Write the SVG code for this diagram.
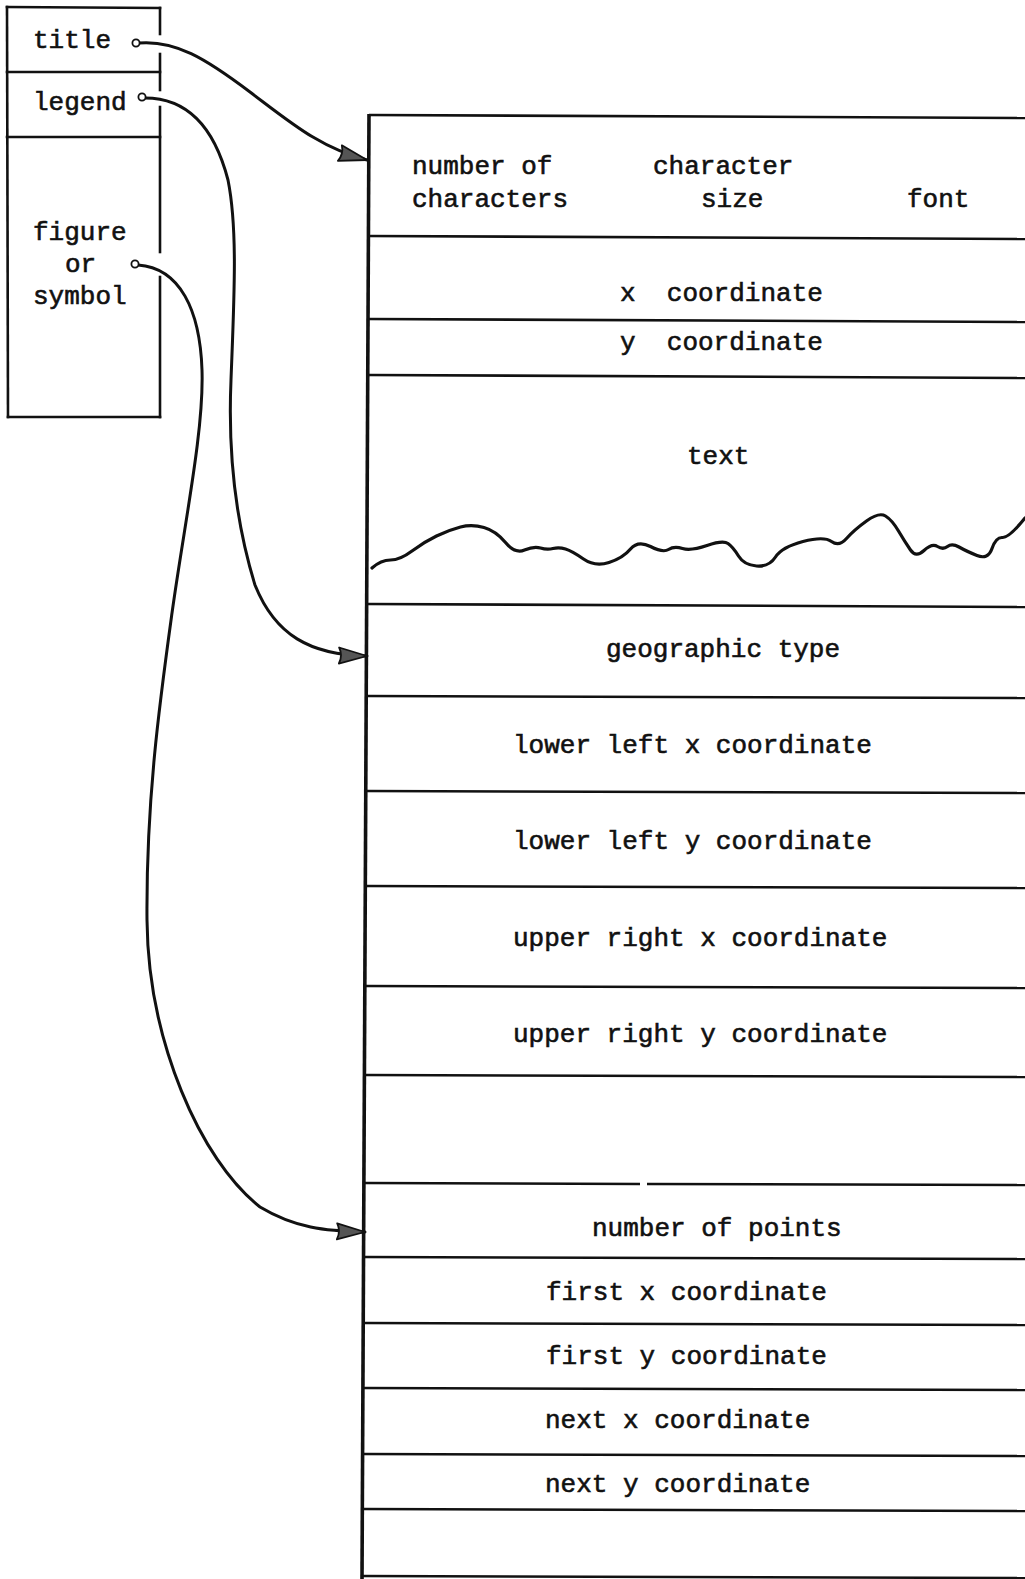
<svg xmlns="http://www.w3.org/2000/svg" width="1025" height="1579" viewBox="0 0 1025 1579">
  <style>
    .bg { fill: #ffffff; }
    .edge { stroke: #111; stroke-width: 2.6; fill: none; stroke-linecap: square; }
    .wall { stroke: #111; stroke-width: 3.6; fill: none; }
    .rule { stroke: #111; stroke-width: 2.6; fill: none; }
    .wave { stroke: #111; stroke-width: 3.2; fill: none; stroke-linejoin: round; stroke-linecap: round; }
    .lbl { font-family: "Liberation Mono", "DejaVu Sans Mono", monospace; font-size: 26px; fill: #111; stroke: #111; stroke-width: 0.6; }
    .wire { stroke: #111; stroke-width: 3; fill: none; stroke-linecap: round; }
    .dot { fill: #fff; stroke: #111; stroke-width: 1.8; }
  </style>
  <defs>
    <marker id="head" markerUnits="userSpaceOnUse" markerWidth="32" markerHeight="22" viewBox="0 -11 32 22" refX="29" refY="0" orient="auto">
      <path d="M1,-8 L29,0 L1,8 Q5,0 1,-8 z" fill="#555" stroke="#111" stroke-width="1.8" stroke-linejoin="round"/>
    </marker>
  </defs>

  <rect class="bg" x="0" y="0" width="1025" height="1579"/>

  <!-- record header: title / legend / figure pointers -->
  <g id="pointer-block">
    <line class="edge" x1="7" y1="7" x2="160" y2="8"/>
    <line class="edge" x1="7" y1="7" x2="8" y2="417"/>
    <line class="edge" x1="8" y1="417" x2="160" y2="417"/>
    <line class="edge" x1="160" y1="8" x2="160" y2="34"/>
    <line class="edge" x1="160" y1="54" x2="160" y2="90"/>
    <line class="edge" x1="160" y1="107" x2="160" y2="252"/>
    <line class="edge" x1="160" y1="277" x2="160" y2="417"/>
    <line class="edge" x1="7" y1="72" x2="160" y2="72"/>
    <line class="edge" x1="7" y1="137" x2="160" y2="137"/>
  </g>
  <g id="node-title"><text class="lbl" x="33" y="48">title</text></g>
  <g id="node-legend"><text class="lbl" x="33" y="110">legend</text></g>
  <g id="node-figure">
    <text class="lbl" x="33" y="240">figure</text>
    <text class="lbl" x="65" y="272">or</text>
    <text class="lbl" x="33" y="304">symbol</text>
  </g>

  <!-- main record layout -->
  <g id="record-frame">
    <line class="wall" x1="369" y1="114" x2="362" y2="1579"/>
    <line class="rule" x1="369" y1="115" x2="1025" y2="118"/>
    <line class="rule" x1="368" y1="236" x2="1025" y2="239"/>
    <line class="rule" x1="368" y1="319" x2="1025" y2="322"/>
    <line class="rule" x1="368" y1="375" x2="1025" y2="378"/>
    <line class="rule" x1="367" y1="604" x2="1025" y2="607"/>
    <line class="rule" x1="367" y1="696" x2="1025" y2="698"/>
    <line class="rule" x1="366" y1="791" x2="1025" y2="793"/>
    <line class="rule" x1="366" y1="886" x2="1025" y2="888"/>
    <line class="rule" x1="366" y1="986" x2="1025" y2="988"/>
    <line class="rule" x1="365" y1="1075" x2="1025" y2="1077"/>
    <line class="rule" x1="364" y1="1183" x2="640" y2="1184"/>
    <line class="rule" x1="647" y1="1184" x2="1025" y2="1185"/>
    <line class="rule" x1="364" y1="1257" x2="1025" y2="1259"/>
    <line class="rule" x1="364" y1="1323" x2="1025" y2="1325"/>
    <line class="rule" x1="363" y1="1388" x2="1025" y2="1390"/>
    <line class="rule" x1="363" y1="1454" x2="1025" y2="1456"/>
    <line class="rule" x1="363" y1="1509" x2="1025" y2="1511"/>
    <line class="rule" x1="362" y1="1576" x2="1025" y2="1578"/>
  </g>

  <g id="field-text-header">
    <text class="lbl" x="412" y="174">number of</text>
    <text class="lbl" x="412" y="207">characters</text>
    <text class="lbl" x="653" y="174">character</text>
    <text class="lbl" x="701" y="207">size</text>
    <text class="lbl" x="907" y="207">font</text>
  </g>
  <g id="field-x"><text class="lbl" x="620" y="301" xml:space="preserve">x  coordinate</text></g>
  <g id="field-y"><text class="lbl" x="620" y="350" xml:space="preserve">y  coordinate</text></g>
  <g id="field-text">
    <text class="lbl" x="687" y="464">text</text>
    <!-- free-form line marking variable-length text -->
    <path class="wave" d="M372,568 Q381,560 390.5,560 Q400,560 412,551 Q424,542 436.5,536 Q449,530 460.5,527 Q472,524 484,527.5 Q496,531 505.5,542.5 Q515,554 524.5,550 Q534,546 540.5,548 Q547,550 553,548.5 Q559,547 565.5,549 Q572,551 583.5,559 Q595,567 609,562.5 Q623,558 630.5,549 Q638,540 650.5,546.5 Q663,553 668.5,549.5 Q674,546 682.5,548.5 Q691,551 707,545.5 Q723,540 728,543.5 Q733,547 738.5,556 Q744,565 756.5,566 Q769,567 775.5,557 Q782,547 803,541.5 Q824,536 831.5,541.5 Q839,547 846.5,538.5 Q854,530 866.5,521 Q879,512 885.5,516 Q892,520 898.5,531 Q905,542 910.5,550 Q916,558 924,550.5 Q932,543 937.5,546.5 Q943,550 947.5,546.5 Q952,543 959,547 Q966,551 977,555.5 Q988,560 992,548.5 Q996,537 1002.5,537.5 Q1009,538 1025,518"/>
  </g>
  <g id="field-geo-type"><text class="lbl" x="606" y="657">geographic type</text></g>
  <g id="field-llx"><text class="lbl" x="513" y="753">lower left x coordinate</text></g>
  <g id="field-lly"><text class="lbl" x="513" y="849">lower left y coordinate</text></g>
  <g id="field-urx"><text class="lbl" x="513" y="946">upper right x coordinate</text></g>
  <g id="field-ury"><text class="lbl" x="513" y="1042">upper right y coordinate</text></g>
  <g id="field-npoints"><text class="lbl" x="592" y="1236">number of points</text></g>
  <g id="field-first-x"><text class="lbl" x="546" y="1300">first x coordinate</text></g>
  <g id="field-first-y"><text class="lbl" x="546" y="1364">first y coordinate</text></g>
  <g id="field-next-x"><text class="lbl" x="545" y="1428">next x coordinate</text></g>
  <g id="field-next-y"><text class="lbl" x="545" y="1492">next y coordinate</text></g>

  <!-- pointer connectors -->
  <g id="connectors">
    <path class="wire" marker-end="url(#head)" d="M139,43 C175,40 205,58 250,92 C290,122 320,148 367,160"/>
    <path class="wire" marker-end="url(#head)" d="M145,98 C190,98 215,130 228,180 C238,230 234,300 231,380 C228,450 235,520 255,585 C275,635 310,655 367,656"/>
    <path class="wire" marker-end="url(#head)" d="M138,265 C180,268 200,310 202,370 C204,430 185,520 172,613 C160,700 146,800 147,920 C148,1040 200,1160 260,1207 C295,1228 325,1231 365,1232"/>
    <circle class="dot" cx="136" cy="43" r="3.6"/>
    <circle class="dot" cx="142" cy="97" r="3.6"/>
    <circle class="dot" cx="135" cy="264" r="3.6"/>
  </g>
</svg>
